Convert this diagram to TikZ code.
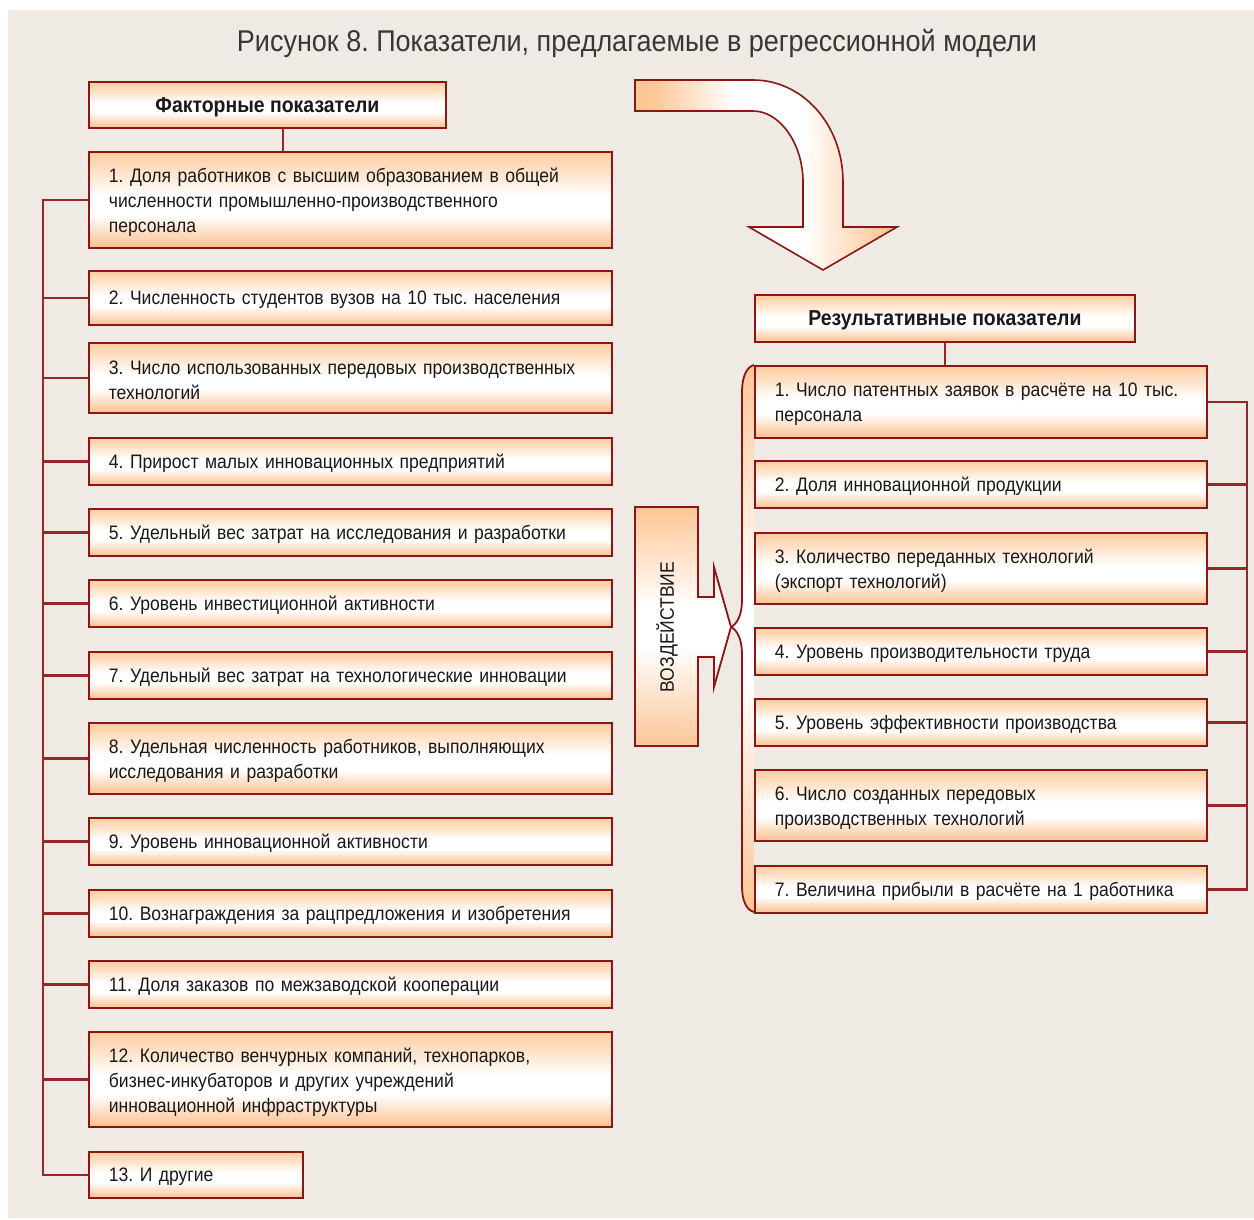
\documentclass[tikz,border=0pt]{standalone}
\usepackage{fontspec}
\setmainfont{Liberation Sans}[FakeStretch=0.90]
\frenchspacing
\definecolor{bg}{RGB}{239,235,228}
\definecolor{bord}{RGB}{140,22,22}
\definecolor{conn}{RGB}{150,40,44}
\definecolor{otop}{RGB}{253,204,158}
\definecolor{obot}{RGB}{251,192,142}
\definecolor{org}{RGB}{253,198,150}
\definecolor{txt}{RGB}{25,25,25}
\definecolor{titlec}{RGB}{55,55,55}
\pgfdeclareverticalshading{boxsh}{100bp}{color(0bp)=(obot); color(25bp)=(obot); color(42bp)=(white); color(52bp)=(white); color(75bp)=(otop); color(100bp)=(otop)}
\pgfdeclareverticalshading{vsh}{100bp}{color(0bp)=(org); color(25bp)=(org); color(46bp)=(white); color(54bp)=(white); color(75bp)=(org); color(100bp)=(org)}
\pgfdeclarehorizontalshading{arrsh}{100bp}{color(0bp)=(org); color(28bp)=(org); color(44bp)=(white); color(57bp)=(white); color(73bp)=(org); color(100bp)=(org)}
\newcommand\bodyf{\fontsize{19.5}{25}\selectfont\frenchspacing}
\newcommand\headf{\fontsize{21.6}{25}\selectfont\bfseries}
\newcommand\titlef{\fontsize{30}{34}\selectfont\frenchspacing}
\tikzset{
  boxbase/.style={draw=bord, line width=1.8pt, shade, shading=boxsh, anchor=north west,
    inner xsep=20pt, inner ysep=0pt, align=left, text=txt, font=\bodyf,
    execute at end node={\par\kern-5pt}},
  lbox/.style={boxbase, minimum width=523pt, text width=483pt},
  rbox/.style={boxbase, minimum width=452pt, text width=412pt},
  hbox/.style={draw=bord, line width=1.8pt, shade, shading=boxsh, anchor=north west,
    inner sep=0pt, text=txt, font=\headf, text depth=0pt},
  connline/.style={draw=conn, line width=2.2pt},
}
\begin{document}
\begin{tikzpicture}[x=1pt,y=-1pt]
\useasboundingbox (0,0) rectangle (1254,1220);
\fill[white] (0,0) rectangle (1254,1220);
\fill[bg] (8,10) rectangle (1254,1218);

\node[font=\titlef, text=titlec] (title) at (637,43) {Рисунок 8. Показатели, предлагаемые в регрессионной модели};

% curved arrow
\path[shade, shading=arrsh, draw=bord, line width=1.6pt, line join=miter]
  (635,80) -- (753,80) .. controls (803,80) and (843,125) .. (843,182) -- (843,227)
  -- (897,227) -- (823,270) -- (749,227) -- (803,227) -- (803,182)
  .. controls (803,144) and (780,111) .. (753,111) -- (635,111) -- cycle;

% brace on the right column
\shade[shading=vsh] (754,365) .. controls (746,367) and (742,378) .. (742,392) -- (742,600)
  .. controls (742,615) and (737,624) .. (731,627) .. controls (737,630) and (742,639) .. (742,654)
  -- (742,886) .. controls (742,900) and (746,910) .. (754,912) -- cycle;
\draw[bord, line width=1.8pt] (754,365) .. controls (746,367) and (742,378) .. (742,392) -- (742,600)
  .. controls (742,615) and (737,624) .. (731,627) .. controls (737,630) and (742,639) .. (742,654)
  -- (742,886) .. controls (742,900) and (746,910) .. (754,912);

% impact arrow
\path[shade, shading=vsh, draw=bord, line width=1.8pt, line join=miter]
  (635,507) -- (698,507) -- (698,597) -- (714,597) -- (714,567) -- (731,627)
  -- (714,687) -- (714,657) -- (698,657) -- (698,746) -- (635,746) -- cycle;
\node[rotate=90, font=\bodyf, text=txt] (vz) at (667,627) {ВОЗДЕЙСТВИЕ};

% headers
\node[hbox, minimum width=357pt, minimum height=46pt] (hl) at (88,81) {Факторные показатели};
\node[hbox, minimum width=380pt, minimum height=47pt] (hr) at (754,294) {Результативные показатели};

% left boxes
\node[lbox, minimum height=96pt] (l1) at (88,151) {1. Доля работников с высшим образованием в общей\\численности промышленно-производственного\\персонала};
\node[lbox, minimum height=54pt] (l2) at (88,270) {2. Численность студентов вузов на 10 тыс. населения};
\node[lbox, minimum height=70pt] (l3) at (88,342) {3. Число использованных передовых производственных\\технологий};
\node[lbox, minimum height=47pt] (l4) at (88,437) {4. Прирост малых инновационных предприятий};
\node[lbox, minimum height=47pt] (l5) at (88,508) {5. Удельный вес затрат на исследования и разработки};
\node[lbox, minimum height=47pt] (l6) at (88,579) {6. Уровень инвестиционной активности};
\node[lbox, minimum height=47pt] (l7) at (88,651) {7. Удельный вес затрат на технологические инновации};
\node[lbox, minimum height=71pt] (l8) at (88,722) {8. Удельная численность работников, выполняющих\\исследования и разработки};
\node[lbox, minimum height=47pt] (l9) at (88,817) {9. Уровень инновационной активности};
\node[lbox, minimum height=47pt] (l10) at (88,889) {10. Вознаграждения за рацпредложения и изобретения};
\node[lbox, minimum height=47pt] (l11) at (88,960) {11. Доля заказов по межзаводской кооперации};
\node[lbox, minimum height=95pt] (l12) at (88,1031) {12. Количество венчурных компаний, технопарков,\\бизнес-инкубаторов и других учреждений\\инновационной инфраструктуры};
\node[boxbase, minimum width=214pt, text width=174pt, minimum height=46pt] (l13) at (88,1151) {13. И другие};

% right boxes
\node[rbox, minimum height=72pt] (r1) at (754,365) {1. Число патентных заявок в расчёте на 10 тыс.\\персонала};
\node[rbox, minimum height=47pt] (r2) at (754,460) {2. Доля инновационной продукции};
\node[rbox, minimum height=71pt] (r3) at (754,532) {3. Количество переданных технологий\\(экспорт технологий)};
\node[rbox, minimum height=47pt] (r4) at (754,627) {4. Уровень производительности труда};
\node[rbox, minimum height=47pt] (r5) at (754,698) {5. Уровень эффективности производства};
\node[rbox, minimum height=71pt] (r6) at (754,769) {6. Число созданных передовых\\производственных технологий};
\node[rbox, minimum height=47pt] (r7) at (754,865) {7. Величина прибыли в расчёте на 1 работника};

% connectors
\coordinate (LX) at (43,0);
\coordinate (RX) at (1247,0);
\coordinate (HLX) at (283,0);
\draw[connline] (hl.south -| HLX) -- (l1.north -| HLX);
\draw[connline] (hr.south) -- (hr.south |- r1.north);
\draw[connline] (l1.west) -- (l1.west -| LX) |- (l13.west);
\foreach \i in {2,...,12} \draw[connline] (l\i.west) -- (l\i.west -| LX);
\draw[connline] (r1.east) -- (r1.east -| RX) |- (r7.east);
\foreach \i in {2,...,6} \draw[connline] (r\i.east) -- (r\i.east -| RX);
\end{tikzpicture}
\end{document}
